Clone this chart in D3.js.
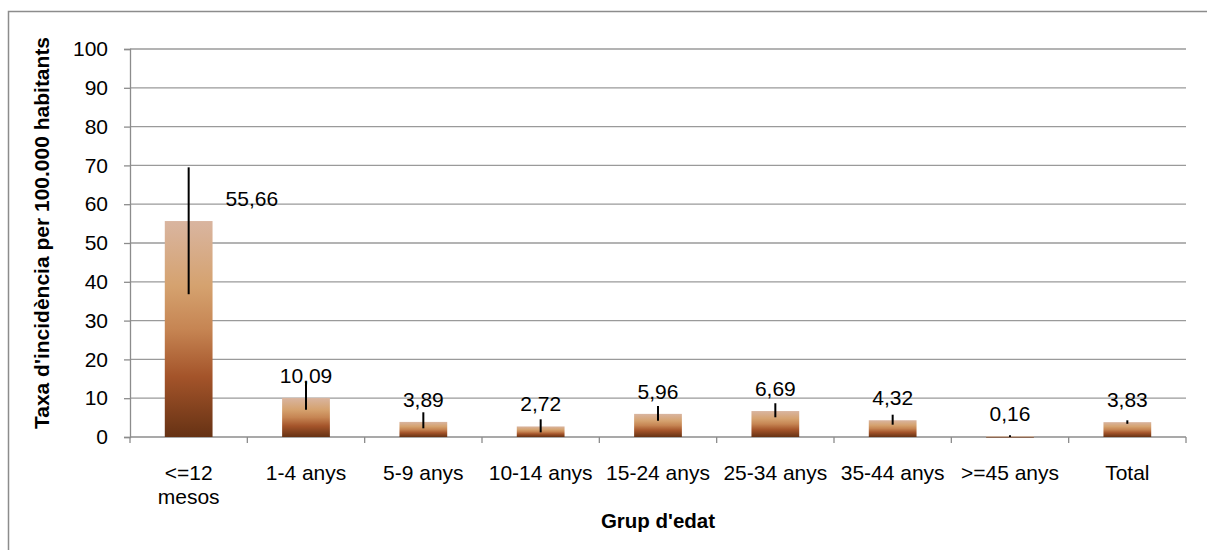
<!DOCTYPE html>
<html>
<head>
<meta charset="utf-8">
<script src="https://cdn.jsdelivr.net/npm/d3@7"></script>
<style>
  html, body { margin: 0; padding: 0; background: #fff; }
  svg { display: block; font-family: "Liberation Sans", Arial, sans-serif; }
</style>
</head>
<body>
<svg id="chart" width="1207" height="550"></svg>
<script>
const categories = ["<=12\nmesos", "1-4 anys", "5-9 anys", "10-14 anys", "15-24 anys", "25-34 anys", "35-44 anys", ">=45 anys", "Total"];
const values = [55.66, 10.09, 3.89, 2.72, 5.96, 6.69, 4.32, 0.16, 3.83];
const lowerCI = [36.8, 7.0, 2.24, 1.2, 4.2, 5.08, 3.17, 0.03, 3.4];
const upperCI = [69.5, 14.3, 6.37, 4.56, 8.0, 8.7, 5.75, 0.45, 4.3];
const valueLabels = ["55,66", "10,09", "3,89", "2,72", "5,96", "6,69", "4,32", "0,16", "3,83"];
const yTicks = [0, 10, 20, 30, 40, 50, 60, 70, 80, 90, 100];
const yTitle = "Taxa d'incidència per 100.000 habitants";
const xTitle = "Grup d'edat";

(function () {
const svg = d3.select("#chart");
const pLeft = 130, pRight = 1186, pTop = 49, pBottom = 437;
const fontSize = 21;

// outer border
svg.append("rect").attr("x", 8.5).attr("y", 11.5).attr("width", 1220).attr("height", 560)
  .attr("fill", "none").attr("stroke", "#8c8c8c").attr("stroke-width", 1.5);

const y = d3.scaleLinear().domain([0, 100]).range([pBottom, pTop]);
const pad = 0.593;
const x = d3.scaleBand().domain(d3.range(categories.length)).range([pLeft, pRight])
  .paddingInner(pad).paddingOuter(pad / 2);
const step = x.step();

// gradient
const defs = svg.append("defs");
const grad = defs.append("linearGradient").attr("id", "barGrad")
  .attr("x1", 0).attr("y1", 0).attr("x2", 0).attr("y2", 1);
[[0, "#d9b5a0"], [0.3, "#d5a26f"], [0.5, "#c68553"], [0.72, "#a4542a"], [1, "#663214"]]
  .forEach(([o, c]) => grad.append("stop").attr("offset", o).attr("stop-color", c));

// gridlines
svg.append("g").selectAll("line").data(yTicks.filter(d => d > 0)).join("line")
  .attr("x1", pLeft).attr("x2", pRight)
  .attr("y1", d => y(d)).attr("y2", d => y(d))
  .attr("stroke", "#9a9a9a").attr("stroke-width", 1.3);

// y axis
const yAxis = svg.append("g").attr("transform", `translate(${pLeft},0)`)
  .call(d3.axisLeft(y).tickValues(yTicks).tickSize(6).tickPadding(16).tickFormat(d3.format("d")));
yAxis.select(".domain").attr("stroke", "#8c8c8c").attr("stroke-width", 1.3);
yAxis.selectAll(".tick line").attr("stroke", "#8c8c8c").attr("stroke-width", 1.3);
yAxis.selectAll(".tick text").attr("font-size", fontSize).attr("fill", "#000")
  .attr("font-family", "'Liberation Sans', Arial, sans-serif");

// x axis baseline and ticks at boundaries
svg.append("line").attr("x1", pLeft).attr("x2", pRight).attr("y1", pBottom).attr("y2", pBottom)
  .attr("stroke", "#8c8c8c").attr("stroke-width", 1.3);
const boundaries = d3.range(categories.length + 1).map(i => pLeft + i * step);
svg.append("g").selectAll("line").data(boundaries).join("line")
  .attr("x1", d => d).attr("x2", d => d).attr("y1", pBottom).attr("y2", pBottom + 6)
  .attr("stroke", "#8c8c8c").attr("stroke-width", 1.3);

// bars
svg.append("g").selectAll("rect").data(values).join("rect")
  .attr("x", (d, i) => x(i)).attr("width", x.bandwidth())
  .attr("y", d => y(d)).attr("height", d => Math.max(1.2, pBottom - y(d)))
  .attr("fill", "url(#barGrad)");

// error bars
svg.append("g").selectAll("line").data(values).join("line")
  .attr("x1", (d, i) => x(i) + x.bandwidth() / 2).attr("x2", (d, i) => x(i) + x.bandwidth() / 2)
  .attr("y1", (d, i) => y(upperCI[i])).attr("y2", (d, i) => y(lowerCI[i]))
  .attr("stroke", "#000").attr("stroke-width", 2);

// value labels
const capH = 15;
svg.append("g").selectAll("text").data(values).join("text")
  .each(function (d, i) {
    const base = y(d) - 15;
    const overlap = y(upperCI[i]) < base - capH;
    const t = d3.select(this);
    if (overlap) {
      t.attr("x", x(i) + x.bandwidth() + 13).attr("text-anchor", "start");
    } else {
      t.attr("x", x(i) + x.bandwidth() / 2).attr("text-anchor", "middle");
    }
    t.attr("y", base);
  })
  .attr("font-size", fontSize).attr("fill", "#000")
  .text((d, i) => valueLabels[i]);

// category labels
const catG = svg.append("g");
categories.forEach((c, i) => {
  const t = catG.append("text").attr("text-anchor", "middle").attr("font-size", fontSize)
    .attr("fill", "#000").attr("x", x(i) + x.bandwidth() / 2).attr("y", 480);
  c.split("\n").forEach((line, j) => {
    t.append("tspan").attr("x", x(i) + x.bandwidth() / 2).attr("dy", j === 0 ? 0 : 24).text(line);
  });
});

// axis titles
svg.append("text").attr("x", (pLeft + pRight) / 2).attr("y", 528).attr("text-anchor", "middle")
  .attr("font-size", 20.5).attr("font-weight", "bold").attr("fill", "#000").text(xTitle);
svg.append("text").attr("transform", `translate(49,${(pTop + pBottom) / 2 - 10}) rotate(-90)`)
  .attr("text-anchor", "middle").attr("font-size", 21).attr("font-weight", "bold")
  .attr("fill", "#000").text(yTitle);
})();
</script>
</body>
</html>
